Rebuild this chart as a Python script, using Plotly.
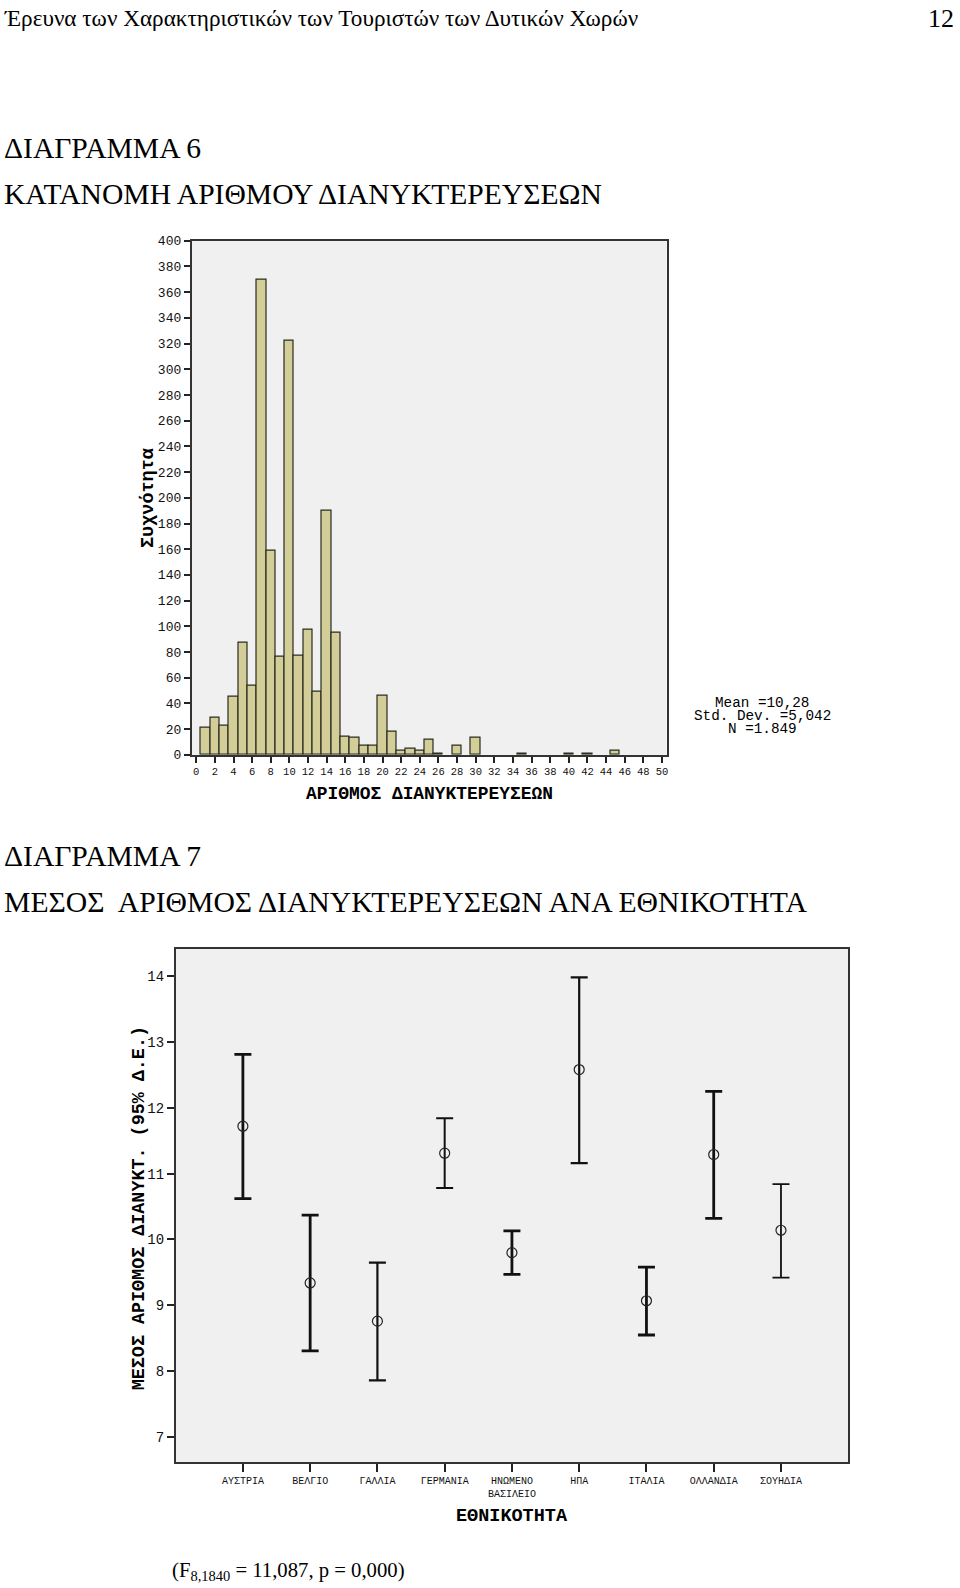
import plotly.graph_objects as go

# ---------------- Data ----------------
# Histogram: number of overnight stays (bin centre) and frequency
nights = [1, 2, 3, 4, 5, 6, 7, 8, 9, 10, 11, 12, 13, 14, 15, 16, 17, 18, 19, 20,
          21, 22, 23, 24, 25, 26, 28, 30, 35, 40, 42, 45]
freq = [21, 29, 23, 45, 87, 54, 370, 159, 76, 322, 77, 97, 49, 190, 95, 14, 13, 7, 7, 46,
        18, 3, 5, 3, 12, 1, 7, 13, 1, 1, 1, 3]
hist_xticks = list(range(0, 51, 2))
hist_yticks = list(range(0, 401, 20))
stats_lines = ["Mean =10,28", "Std. Dev. =5,042", "N =1.849"]

# Error-bar chart: mean nights by nationality with 95% CI
countries = ["ΑΥΣΤΡΙΑ", "ΒΕΛΓΙΟ", "ΓΑΛΛΙΑ", "ΓΕΡΜΑΝΙΑ", "ΗΝΩΜΕΝΟ<br>ΒΑΣΙΛΕΙΟ",
             "ΗΠΑ", "ΙΤΑΛΙΑ", "ΟΛΛΑΝΔΙΑ", "ΣΟΥΗΔΙΑ"]
means = [11.72, 9.34, 8.76, 11.31, 9.80, 12.58, 9.07, 11.29, 10.14]
ci_low = [10.62, 8.31, 7.86, 10.78, 9.47, 11.16, 8.55, 10.32, 9.42]
ci_high = [12.81, 10.37, 9.65, 11.84, 10.13, 13.98, 9.58, 12.25, 10.84]
bar_widths = [2.8, 2.8, 2.2, 2.0, 2.8, 2.2, 2.8, 2.8, 1.8]
err_yticks = [7, 8, 9, 10, 11, 12, 13, 14]

W, H = 960, 1588
def px(x):
    return x / W
def py(y):
    return 1 - y / H

fig = go.Figure()

# Histogram bars
fig.add_trace(go.Bar(
    x=nights, y=freq, width=1.0,
    marker=dict(color="#d3ce97", line=dict(color="#2b2b20", width=1.2)),
    xaxis="x", yaxis="y", showlegend=False, hoverinfo="x+y"))

# Error bars
for i in range(len(countries)):
    fig.add_trace(go.Scatter(
        x=[countries[i]], y=[means[i]], mode="markers",
        marker=dict(symbol="circle-open", size=10, color="#222222", line=dict(width=1.2)),
        error_y=dict(type="data", symmetric=False,
                     array=[ci_high[i] - means[i]], arrayminus=[means[i] - ci_low[i]],
                     color="#111111", thickness=bar_widths[i], width=8.5),
        xaxis="x2", yaxis="y2", showlegend=False))

mono = "Liberation Mono"
serif = "Liberation Serif"

fig.update_layout(
    width=W, height=H,
    margin=dict(l=0, r=0, t=0, b=0),
    paper_bgcolor="white",
    plot_bgcolor="#f0f0f0",
    bargap=0,
    xaxis=dict(domain=[px(192), px(668)], range=[-0.5, 50.5],
               tickmode="array", tickvals=hist_xticks, ticktext=[str(v) for v in hist_xticks],
               ticks="outside", ticklen=6, tickwidth=1.5, tickcolor="#222",
               tickfont=dict(family=mono, size=10.5, color="#111"),
               showline=True, linecolor="#333", linewidth=1.5, mirror=True,
               showgrid=False, zeroline=False, anchor="y"),
    yaxis=dict(domain=[py(756), py(237)], range=[0, 400],
               tickmode="array", tickvals=hist_yticks, ticktext=[str(v) for v in hist_yticks],
               ticks="outside", ticklen=6, tickwidth=1.5, tickcolor="#222",
               tickfont=dict(family=mono, size=13, color="#111"),
               showline=True, linecolor="#333", linewidth=1.5, mirror=True,
               showgrid=False, zeroline=False, anchor="x"),
    xaxis2=dict(domain=[px(176), px(850)], range=[-1, 9],
                type="category", categoryorder="array", categoryarray=countries,
                ticks="outside", ticklen=8, tickwidth=2, tickcolor="#222",
                tickfont=dict(family=mono, size=10, color="#111"),
                showline=True, linecolor="#333", linewidth=1.5, mirror=True,
                showgrid=False, zeroline=False, anchor="y2"),
    yaxis2=dict(domain=[py(1470), py(952)], range=[6.62, 14.41],
                tickmode="array", tickvals=err_yticks, ticktext=[str(v) for v in err_yticks],
                ticks="outside", ticklen=7, tickwidth=1.5, tickcolor="#222",
                tickfont=dict(family=mono, size=14, color="#111"),
                showline=True, linecolor="#333", linewidth=1.5, mirror=True,
                showgrid=False, zeroline=False, anchor="x2"),
)

ann = []
def text(x, y, s, size, family=serif, xanchor="left", angle=0, color="black"):
    ann.append(dict(x=px(x), y=py(y), xref="paper", yref="paper", text=s,
                    showarrow=False, xanchor=xanchor, yanchor="middle",
                    textangle=angle, font=dict(family=family, size=size, color=color)))

text(2, 12, "Έρευνα των Χαρακτηριστικών των Τουριστών των Δυτικών Χωρών", 23.2)
text(958, 13, "12", 26, xanchor="right")
text(2, 143, "ΔΙΑΓΡΑΜΜΑ 6", 29.6)
text(2, 190, "ΚΑΤΑΝΟΜΗ ΑΡΙΘΜΟΥ ΔΙΑΝΥΚΤΕΡΕΥΣΕΩΝ", 29.6)
text(2, 858, "ΔΙΑΓΡΑΜΜΑ 7", 29.6)
text(2, 905, "ΜΕΣΟΣ  ΑΡΙΘΜΟΣ ΔΙΑΝΥΚΤΕΡΕΥΣΕΩΝ ΑΝΑ ΕΘΝΙΚΟΤΗΤΑ", 29.7)

# Histogram axis titles
text(149, 496, "<b>Συχνότητα</b>", 18.5, family=mono, xanchor="center", angle=-90)
text(430, 796, "<b>ΑΡΙΘΜΟΣ ΔΙΑΝΥΚΤΕΡΕΥΣΕΩΝ</b>", 17.9, family=mono, xanchor="center")
# Stats box text
for k, line in enumerate(stats_lines):
    text(764, 704 + k * 12.8, line, 14.3, family=mono, xanchor="center")

# Error chart axis titles
text(140, 1214, "<b>ΜΕΣΟΣ ΑΡΙΘΜΟΣ ΔΙΑΝΥΚΤ. (95% Δ.Ε.)</b>", 18.4, family=mono,
     xanchor="center", angle=-90)
text(513, 1525, "<b>ΕΘΝΙΚΟΤΗΤΑ</b>", 18.5, family=mono, xanchor="center")

text(170, 1580, "(F<sub>8,1840</sub> = 11,087, p = 0,000)", 20.7)

fig.update_layout(annotations=ann)
# remove the browser's default 8px body margin so the figure fills the page
fig.write_html("out.html", config={"displayModeBar": False},
               post_script="document.body.style.margin='0';document.body.style.overflow='hidden';")
